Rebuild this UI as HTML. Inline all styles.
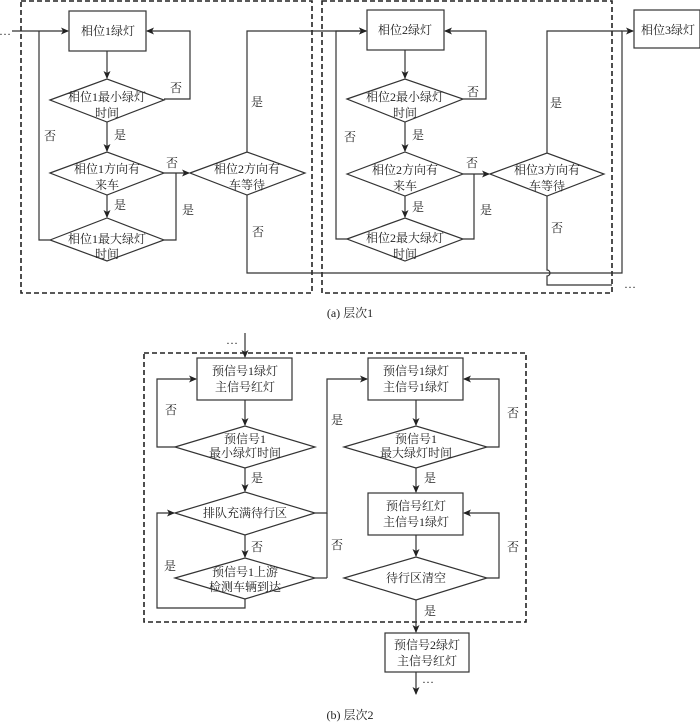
<!DOCTYPE html>
<html><head><meta charset="utf-8"><style>
html,body{margin:0;padding:0;background:#fff;}
svg{display:block;}
text{font-family:"Liberation Serif","Noto Serif CJK SC",serif;font-size:12px;fill:#222;text-anchor:middle;}
.l{fill:none;stroke:#333;stroke-width:1.2;}
.d{fill:none;stroke:#222;stroke-width:1.6;stroke-dasharray:5,3;}
</style></head><body>
<svg width="700" height="725" viewBox="0 0 700 725" xmlns="http://www.w3.org/2000/svg">
<defs><marker id="a" markerWidth="8" markerHeight="8" refX="7" refY="4" orient="auto" markerUnits="userSpaceOnUse"><path d="M0,0.5 L8,4 L0,7.5 L2,4 Z" fill="#222"/></marker></defs>
<!-- dashed boxes top -->
<rect class="d" x="21" y="1" width="291" height="292"/>
<rect class="d" x="322" y="1" width="290" height="292"/>
<text x="5" y="35">…</text>
<!-- phase 1 -->
<line class="l" x1="12" y1="31" x2="68" y2="31" marker-end="url(#a)"/>
<rect class="l" x="69" y="11" width="77" height="40"/>
<text x="108" y="35">相位1绿灯</text>
<line class="l" x1="107" y1="51" x2="107" y2="78" marker-end="url(#a)"/>
<polygon class="l" points="50,100 107,79 164,100 107,122"/>
<text x="107" y="101">相位1最小绿灯</text><text x="107" y="117">时间</text>
<polyline class="l" points="164,99 190,99 190,31 147,31" marker-end="url(#a)"/>
<text x="176" y="92">否</text>
<line class="l" x1="107" y1="122" x2="107" y2="151" marker-end="url(#a)"/>
<text x="120" y="139">是</text>
<polygon class="l" points="50,173 107,152 164,173 107,195"/>
<text x="107" y="173">相位1方向有</text><text x="107" y="189">来车</text>
<line class="l" x1="164" y1="173" x2="189" y2="173" marker-end="url(#a)"/>
<text x="172" y="167">否</text>
<line class="l" x1="107" y1="195" x2="107" y2="217" marker-end="url(#a)"/>
<text x="120" y="209">是</text>
<polygon class="l" points="50,240 107,218 164,240 107,261"/>
<text x="107" y="243">相位1最大绿灯</text><text x="107" y="258">时间</text>
<polyline class="l" points="50,240 39,240 39,31"/>
<text x="50" y="140">否</text>
<polyline class="l" points="164,240 176,240 176,173"/>
<text x="188" y="214">是</text>
<polygon class="l" points="190,173 247,152 305,173 247,195"/>
<text x="247" y="173">相位2方向有</text><text x="247" y="189">车等待</text>
<polyline class="l" points="247,152 247,31 366,31" marker-end="url(#a)"/>
<text x="257" y="106">是</text>
<polyline class="l" points="247,195 247,273 622,273 622,31 633,31" marker-end="url(#a)"/>
<text x="258" y="236">否</text>
<!-- phase 2 -->
<rect class="l" x="367" y="10" width="77" height="40"/>
<text x="405" y="34">相位2绿灯</text>
<line class="l" x1="405" y1="50" x2="405" y2="78" marker-end="url(#a)"/>
<polygon class="l" points="347,99 405,79 463,99 405,122"/>
<text x="405" y="101">相位2最小绿灯</text><text x="405" y="117">时间</text>
<polyline class="l" points="463,99 486,99 486,31 445,31" marker-end="url(#a)"/>
<text x="473" y="96">否</text>
<line class="l" x1="405" y1="122" x2="405" y2="151" marker-end="url(#a)"/>
<text x="418" y="139">是</text>
<polygon class="l" points="347,174 405,152 463,174 405,196"/>
<text x="405" y="174">相位2方向有</text><text x="405" y="190">来车</text>
<line class="l" x1="463" y1="174" x2="489" y2="174" marker-end="url(#a)"/>
<text x="472" y="167">否</text>
<line class="l" x1="405" y1="196" x2="405" y2="217" marker-end="url(#a)"/>
<text x="418" y="211">是</text>
<polygon class="l" points="347,239 405,218 463,239 405,261"/>
<text x="405" y="242">相位2最大绿灯</text><text x="405" y="258">时间</text>
<polyline class="l" points="347,239 336,239 336,31 366,31" marker-end="url(#a)"/>
<text x="350" y="141">否</text>
<polyline class="l" points="463,239 474,239 474,174"/>
<text x="486" y="214">是</text>
<polygon class="l" points="490,174 547,153 604,174 547,196"/>
<text x="547" y="174">相位3方向有</text><text x="547" y="190">车等待</text>
<polyline class="l" points="547,153 547,31 622,31"/>
<text x="556" y="107">是</text>
<path class="l" d="M547,196 L547,270 A3,3 0 0 1 547,276 L547,285 L612,285"/>
<text x="557" y="232">否</text>
<text x="630" y="288">…</text>
<rect class="l" x="634" y="10" width="66" height="38"/>
<text x="668" y="34">相位3绿灯</text>
<text x="350" y="317">(a) 层次1</text>
<!-- part b -->
<rect class="d" x="144" y="353" width="382" height="269"/>
<text x="232" y="344">…</text>
<line class="l" x1="245" y1="333" x2="245" y2="357" marker-end="url(#a)"/>
<rect class="l" x="197" y="358" width="95" height="42"/>
<text x="245" y="375">预信号1绿灯</text><text x="245" y="391">主信号红灯</text>
<line class="l" x1="245" y1="400" x2="245" y2="425" marker-end="url(#a)"/>
<polygon class="l" points="175,447 245,426 315,447 245,468"/>
<text x="245" y="443">预信号1</text><text x="245" y="457">最小绿灯时间</text>
<polyline class="l" points="175,447 157,447 157,379 196,379" marker-end="url(#a)"/>
<text x="171" y="414">否</text>
<line class="l" x1="245" y1="468" x2="245" y2="491" marker-end="url(#a)"/>
<text x="257" y="482">是</text>
<polygon class="l" points="175,513 245,492 315,513 245,535"/>
<text x="245" y="517">排队充满待行区</text>
<line class="l" x1="245" y1="535" x2="245" y2="557" marker-end="url(#a)"/>
<text x="257" y="551">否</text>
<polygon class="l" points="175,578 245,558 315,578 245,599"/>
<text x="245" y="576">预信号1上游</text><text x="245" y="591">检测车辆到达</text>
<polyline class="l" points="245,599 245,608 157,608 157,513 174,513" marker-end="url(#a)"/>
<text x="170" y="570">是</text>
<polyline class="l" points="315,513 327,513 327,379 367,379" marker-end="url(#a)"/>
<line class="l" x1="315" y1="578" x2="327" y2="578"/><line class="l" x1="327" y1="578" x2="327" y2="513"/>
<text x="337" y="424">是</text><text x="337" y="549">否</text>
<rect class="l" x="368" y="358" width="95" height="42"/>
<text x="416" y="375">预信号1绿灯</text><text x="416" y="391">主信号1绿灯</text>
<line class="l" x1="416" y1="400" x2="416" y2="425" marker-end="url(#a)"/>
<polygon class="l" points="344,447 416,426 487,447 416,468"/>
<text x="416" y="443">预信号1</text><text x="416" y="457">最大绿灯时间</text>
<polyline class="l" points="487,447 499,447 499,379 464,379" marker-end="url(#a)"/>
<text x="513" y="417">否</text>
<line class="l" x1="416" y1="468" x2="416" y2="492" marker-end="url(#a)"/>
<text x="430" y="482">是</text>
<rect class="l" x="368" y="493" width="95" height="42"/>
<text x="416" y="510">预信号红灯</text><text x="416" y="526">主信号1绿灯</text>
<line class="l" x1="416" y1="535" x2="416" y2="556" marker-end="url(#a)"/>
<polygon class="l" points="344,578 416,557 487,578 416,600"/>
<text x="416" y="582">待行区清空</text>
<polyline class="l" points="487,578 499,578 499,513 464,513" marker-end="url(#a)"/>
<text x="513" y="551">否</text>
<line class="l" x1="416" y1="600" x2="416" y2="632" marker-end="url(#a)"/>
<text x="430" y="615">是</text>
<rect class="l" x="385" y="633" width="84" height="39"/>
<text x="427" y="649">预信号2绿灯</text><text x="427" y="665">主信号红灯</text>
<line class="l" x1="416" y1="672" x2="416" y2="694" marker-end="url(#a)"/>
<text x="428" y="683">…</text>
<text x="350" y="719">(b) 层次2</text>
</svg>
</body></html>
